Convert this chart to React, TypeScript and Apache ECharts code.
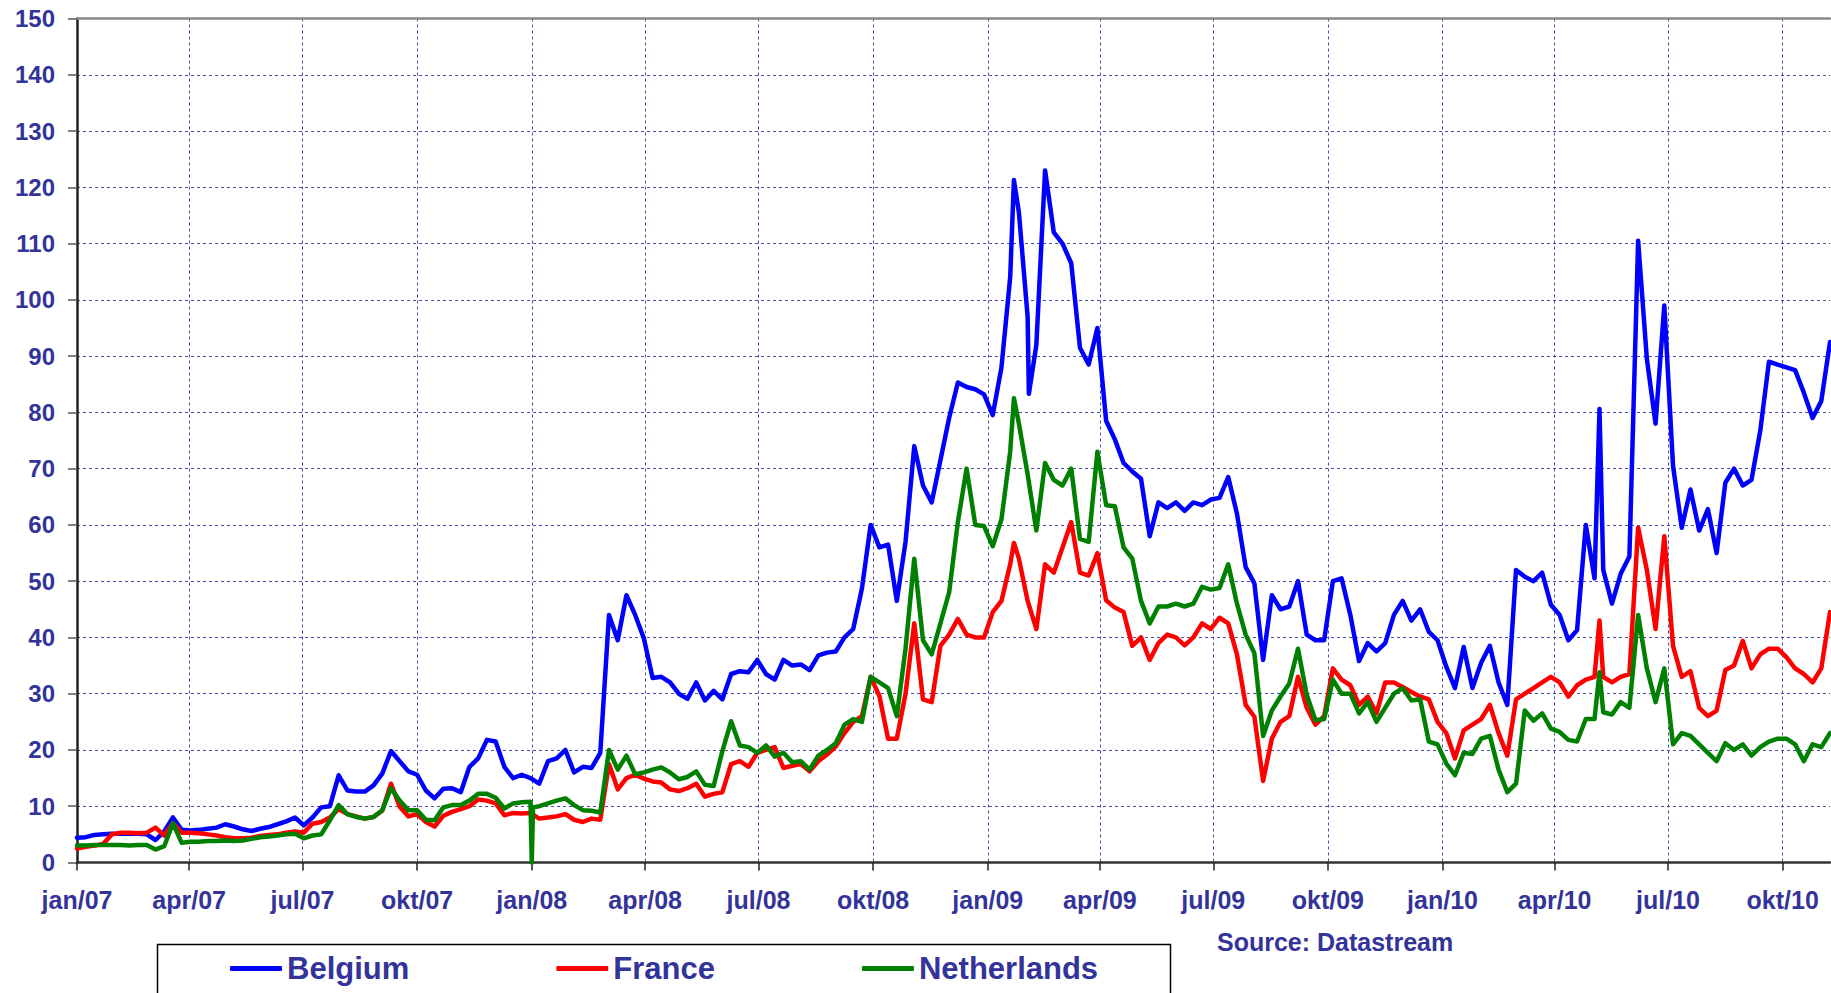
import React, { useEffect, useRef } from 'react';
import * as echarts from 'echarts';

// Weekly observations, week 0 = 2007-01-01, one value every 7 days
const belgium = [
  4.4, 4.5, 4.9, 5.0, 5.1, 5.1, 5.1, 5.1, 5.0, 4.0,
  5.5, 8.0, 5.8, 5.7, 5.8, 6.0, 6.2, 6.8, 6.4, 5.9,
  5.6, 6.0, 6.3, 6.8, 7.3, 8.0, 6.6, 8.0, 9.8, 10.0,
  15.5, 12.8, 12.6, 12.6, 13.7, 15.8, 19.8, 18.0, 16.2, 15.6,
  12.8, 11.4, 13.1, 13.2, 12.5, 17.0, 18.5, 21.8, 21.5, 17.0,
  15.0, 15.6, 15.0, 14.0, 18.0, 18.5, 20.0, 16.0, 17.0, 16.8,
  19.5, 44.0, 39.5, 47.5, 44.0, 39.8, 32.8, 33.0, 32.0, 30.0,
  29.1, 32.0, 28.8, 30.5, 29.0, 33.5, 34.0, 33.8, 36.0, 33.5,
  32.5, 36.0, 35.0, 35.2, 34.2, 36.8, 37.3, 37.5, 40.0, 41.5,
  48.7, 60.0, 56.0, 56.5, 46.5, 57.0, 74.0, 67.0, 64.0, 71.5,
  79.0, 85.3, 84.5, 84.1, 83.2, 79.5, 88.0, 104.0, 115.5, 97.0,
  92.0, 123.0, 112.0, 110.0, 106.5, 91.5, 88.5, 95.0, 78.5, 75.2,
  71.0, 69.5, 68.2, 58.0, 64.0, 63.0, 64.0, 62.5, 64.0, 63.5,
  64.5, 64.8, 68.5, 62.0, 52.5, 49.6, 36.0, 47.5, 45.0, 45.5,
  50.0, 40.5, 39.5, 39.5, 50.0, 50.5, 44.0, 35.8, 39.0, 37.5,
  39.0, 44.0, 46.5, 43.0, 45.0, 41.0, 39.5, 34.8, 31.0, 38.3,
  31.0, 35.5, 38.5, 32.0, 28.0, 52.0, 50.8, 50.0, 51.5, 45.8,
  44.0, 39.5, 41.3, 60.0, 50.5, 52.0, 46.0, 51.3, 54.4, 110.5,
  89.5, 78.0, 99.0, 70.5, 59.5, 66.3, 59.0, 62.8, 55.0, 67.5,
  70.0, 67.0, 68.0, 76.7, 89.0, 88.5, 88.0, 87.5, 83.5, 79.0,
  82.0, 92.5,
];

const france = [
  2.5, 2.8, 3.0, 3.3, 5.0, 5.3, 5.3, 5.2, 5.3, 6.2,
  4.8, 7.0, 5.3, 5.3, 5.2, 5.0, 4.8, 4.5, 4.3, 4.3,
  4.4, 4.7, 4.9, 5.0, 5.3, 5.5, 5.3, 6.9, 7.2, 8.0,
  9.5, 8.6, 8.2, 7.8, 8.1, 9.2, 14.0, 9.9, 8.2, 8.6,
  7.2, 6.4, 8.3, 9.0, 9.5, 10.0, 11.2, 11.0, 10.5, 8.4,
  8.8, 8.7, 8.8, 7.8, 8.0, 8.2, 8.6, 7.6, 7.2, 7.8,
  7.6, 17.5, 13.0, 15.0, 15.6, 14.9, 14.4, 14.2, 13.0, 12.7,
  13.2, 14.0, 11.7, 12.2, 12.5, 17.5, 18.0, 17.0, 19.5, 20.0,
  20.5, 16.8, 17.2, 17.5, 16.2, 18.0, 19.2, 20.6, 23.0, 25.0,
  26.0, 33.0, 29.6, 22.0, 22.0, 30.0, 42.5, 29.0, 28.5, 38.5,
  40.5, 43.3, 40.5, 40.0, 40.0, 44.5, 46.5, 53.0, 54.0, 46.5,
  41.5, 53.0, 51.5, 56.0, 60.5, 51.5, 51.0, 55.0, 46.6, 45.3,
  44.5, 38.5, 40.0, 36.0, 39.0, 40.5, 40.0, 38.6, 40.0, 42.5,
  41.5, 43.5, 42.5, 37.0, 28.0, 25.9, 14.5, 22.0, 25.0, 26.0,
  33.0, 27.5, 24.5, 26.0, 34.5, 32.5, 31.5, 28.0, 29.5, 26.5,
  32.0, 32.0, 31.2, 30.3, 29.5, 29.0, 25.0, 23.0, 18.5, 23.5,
  24.5, 25.5, 28.0, 23.0, 19.0, 29.0, 30.0, 31.0, 32.0, 33.0,
  32.0, 29.5, 31.5, 32.5, 33.0, 33.0, 32.0, 33.0, 33.5, 59.5,
  52.0, 41.5, 58.0, 38.5, 33.0, 34.0, 27.5, 26.0, 27.0, 34.2,
  35.0, 39.4, 34.5, 37.0, 38.0, 38.0, 36.5, 34.5, 33.5, 32.0,
  34.5, 44.5,
];

const netherlands = [
  3.0, 3.0, 3.1, 3.1, 3.1, 3.1, 3.0, 3.1, 3.1, 2.3,
  2.9, 7.0, 3.5, 3.7, 3.7, 3.8, 3.8, 3.9, 3.8, 3.9,
  4.2, 4.5, 4.6, 4.8, 5.0, 5.1, 4.3, 4.8, 5.0, 7.5,
  10.2, 8.6, 8.1, 7.8, 8.1, 9.3, 13.2, 11.0, 9.3, 9.3,
  7.6, 7.5, 9.8, 10.2, 10.2, 11.0, 12.2, 12.2, 11.5, 9.6,
  10.5, 10.7, 10.8, 10.0, 10.5, 11.0, 11.4, 10.2, 9.3, 9.2,
  8.9, 20.0, 16.5, 19.0, 15.7, 16.0, 16.5, 16.9, 16.0, 14.8,
  15.2, 16.2, 13.8, 13.6, 19.8, 25.1, 20.8, 20.5, 19.5, 20.8,
  18.8, 19.5, 17.8, 18.0, 16.5, 19.0, 20.0, 21.2, 24.5, 25.5,
  25.0, 33.0, 32.0, 31.0, 26.0, 38.0, 54.0, 39.5, 37.0, 42.5,
  48.0, 60.5, 70.0, 60.0, 59.8, 56.2, 61.0, 73.0, 78.0, 69.0,
  59.0, 71.0, 68.0, 67.0, 70.0, 57.5, 57.0, 73.0, 63.5, 63.3,
  56.0, 54.0, 46.5, 42.5, 45.5, 45.5, 46.0, 45.5, 46.0, 49.0,
  48.5, 48.8, 53.0, 46.0, 40.5, 37.2, 22.5, 27.0, 29.5, 31.8,
  38.0, 29.8, 25.3, 25.5, 32.5, 30.0, 30.0, 26.5, 28.5, 25.0,
  27.5, 30.0, 31.0, 28.8, 29.0, 21.5, 21.0, 17.6, 15.5, 19.5,
  19.3, 22.0, 22.5, 16.5, 12.5, 14.0, 27.0, 25.2, 26.5, 23.8,
  23.2, 21.8, 21.5, 25.5, 25.5, 26.7, 26.3, 28.5, 27.5, 44.0,
  34.5, 28.5, 34.5, 21.0, 23.0, 22.5, 21.0, 19.5, 18.0, 21.2,
  20.0, 21.0, 19.0, 20.5, 21.5, 22.0, 22.0, 21.0, 18.0, 21.0,
  20.5, 23.0,
];

// Extra daily observations for sharp spikes between weekly samples
const belgiumExtra: [string, number][] = [
  ['2009-01-22', 121.3],
  ['2009-02-03', 83.3],
  ['2010-05-07', 80.6],
];
const franceExtra: [string, number][] = [
  ['2009-01-22', 56.8],
  ['2010-05-07', 43.0],
];
const netherlandsExtra: [string, number][] = [
  ['2008-01-01', 0],
  ['2008-01-02', 9.8],
  ['2009-01-22', 82.5],
  ['2010-05-07', 33.8],
];

const seriesNames = ['Belgium', 'France', 'Netherlands'];
const seriesColors = ['#0000FF', '#FF0000', '#008000'];
const quarterMonths: Record<string, string> = { '01': 'jan', '04': 'apr', '07': 'jul', '10': 'okt' };
const startDate = Date.UTC(2007, 0, 1);
const dayCount = 1408;
const yTicks = { min: 0, max: 150, interval: 10 };

const TEXT = '#333399';
const FONT = '"Liberation Sans", Arial, Helvetica, sans-serif';

function buildDays(): string[] {
  const out: string[] = [];
  for (let i = 0; i < dayCount; i++) {
    out.push(new Date(startDate + i * 86400000).toISOString().slice(0, 10));
  }
  return out;
}

function buildSeries(days: string[], weekly: number[], extra: [string, number][]) {
  const arr: (number | null)[] = new Array(days.length).fill(null);
  weekly.forEach((v, w) => {
    if (w * 7 < arr.length) arr[w * 7] = v;
  });
  extra.forEach(([d, v]) => {
    const i = days.indexOf(d);
    if (i >= 0) arr[i] = v;
  });
  return arr;
}

function isQuarter(v: string) {
  return v.slice(8, 10) === '01' && quarterMonths[v.slice(5, 7)] !== undefined;
}

export default function App() {
  const ref = useRef<HTMLDivElement>(null);

  useEffect(() => {
    if (!ref.current) return;
    const chart = echarts.init(ref.current, null, { renderer: 'svg' });
    const days = buildDays();
    const values = [
      buildSeries(days, belgium, belgiumExtra),
      buildSeries(days, france, franceExtra),
      buildSeries(days, netherlands, netherlandsExtra),
    ];
    const qInterval = (_i: number, v: string) => isQuarter(v);

    chart.setOption({
      animation: false,
      backgroundColor: '#ffffff',
      textStyle: { fontFamily: FONT },
      grid: {
        left: 77,
        right: 1,
        top: 18.5,
        bottom: 130.5,
        containLabel: false,
        outerBoundsMode: 'none',
      },
      title: {
        text: 'Source: Datastream',
        left: 1217,
        top: 929,
        padding: 0,
        textStyle: { color: TEXT, fontSize: 25, fontWeight: 'bold', fontFamily: FONT },
      },
      legend: {
        data: seriesNames,
        left: 230,
        top: 953,
        padding: 0,
        itemGap: 147,
        itemWidth: 52,
        itemHeight: 5,
        icon: 'roundRect',
        textStyle: { color: TEXT, fontSize: 31, fontWeight: 'bold', fontFamily: FONT },
      },
      graphic: [
        {
          type: 'rect',
          shape: { x: 157.5, y: 944.5, width: 1013, height: 70 },
          style: { fill: 'none', stroke: '#000000', lineWidth: 1.5 },
          z: -1,
        },
      ],
      xAxis: [
        {
          type: 'category',
          data: days,
          boundaryGap: false,
          axisLine: { show: true, lineStyle: { color: '#333333', width: 2.5 } },
          axisTick: { show: true, interval: qInterval, length: 8, lineStyle: { color: '#222222', width: 1.5 } },
          axisLabel: {
            interval: qInterval,
            margin: 25,
            color: TEXT,
            fontSize: 25,
            fontWeight: 'bold',
            fontFamily: FONT,
            formatter: (v: string) => `${quarterMonths[v.slice(5, 7)]}/${v.slice(2, 4)}`,
          },
          splitLine: { show: true, interval: qInterval, lineStyle: { color: '#4d4da6', type: [3, 3], width: 1 } },
        },
        {
          type: 'value',
          position: 'top',
          min: 0,
          max: 1,
          axisLine: { show: true, onZero: false, lineStyle: { color: '#888888', width: 2.5 } },
          axisTick: { show: false },
          axisLabel: { show: false },
          splitLine: { show: false },
        },
      ],
      yAxis: {
        type: 'value',
        min: yTicks.min,
        max: yTicks.max,
        interval: yTicks.interval,
        axisLine: { show: true, lineStyle: { color: '#222222', width: 2.5 } },
        axisTick: { show: true, length: 9, lineStyle: { color: '#555555', width: 1.5 } },
        axisLabel: { margin: 22, color: TEXT, fontSize: 24, fontWeight: 'bold', fontFamily: FONT },
        splitLine: { show: true, lineStyle: { color: '#4d4da6', type: [3, 3], width: 1 } },
      },
      series: seriesNames.map((name, i) => ({
        name,
        type: 'line',
        xAxisIndex: 0,
        data: values[i],
        connectNulls: true,
        showSymbol: false,
        symbol: 'none',
        color: seriesColors[i],
        lineStyle: { color: seriesColors[i], width: 4.5, join: 'round', cap: 'round' },
        emphasis: { disabled: true },
        z: 2 + i,
      })),
    });
    return () => chart.dispose();
  }, []);

  return (
    <div
      ref={ref}
      style={{ position: 'absolute', left: 0, top: 0, width: 1831, height: 993, background: '#fff' }}
    />
  );
}
